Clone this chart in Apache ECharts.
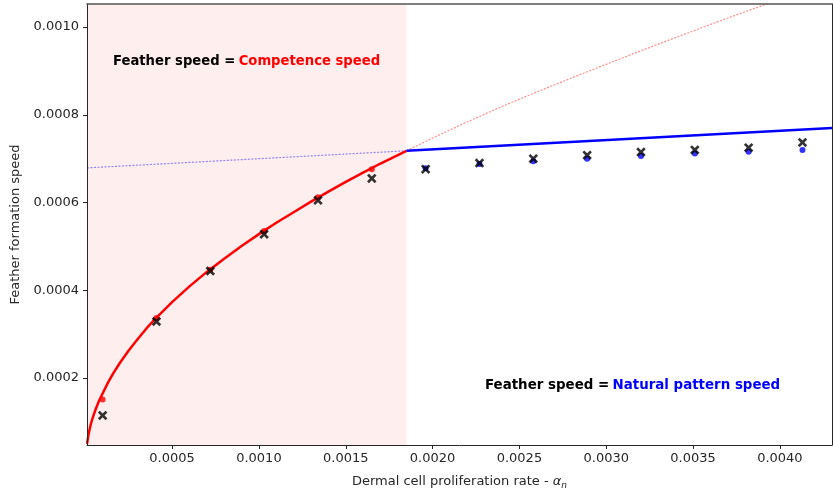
<!DOCTYPE html>
<html>
<head>
<meta charset="utf-8">
<script src="https://cdn.jsdelivr.net/npm/echarts@6/dist/echarts.min.js"></script>
<style>
  html, body { margin: 0; padding: 0; background: #fff; }
  #chart { width: 833px; height: 495px; }
</style>
</head>
<body>
<div id="chart"></div>
<script>
// Axis extents
const xRange = [0.00001, 0.0043];
const yRange = [0.0000475, 0.0010525];
const xTicks = [0.0005, 0.0010, 0.0015, 0.0020, 0.0025, 0.0030, 0.0035, 0.0040];
const yTicks = [0.0002, 0.0004, 0.0006, 0.0008, 0.0010];

// Boundary between the two regimes
const crossoverAlpha = 0.00185;

// Simulated feather speeds (black crosses)
const alphaSamples = [0.0001, 0.00041, 0.00072, 0.00103, 0.00134, 0.00165, 0.00196,
                      0.00227, 0.00258, 0.00289, 0.0032, 0.00351, 0.00382, 0.00413];
const featherSpeed = [0.000115, 0.000329, 0.000444, 0.000528, 0.000605, 0.000655, 0.000676,
                      0.00069, 0.0007, 0.000708, 0.000715, 0.00072, 0.000725, 0.000737];

// Predicted speeds: competence (first six samples) and natural pattern (remaining samples)
const competenceDots = [0.000151, 0.000337, 0.000447, 0.000535, 0.000612, 0.000676];
const patternDots = [0.000678, 0.000688, 0.000694, 0.0007, 0.000706, 0.000712, 0.000716, 0.00072];

// Competence speed curve
const competenceAlpha = [0.00001, 0.00002, 0.00003, 0.00004, 0.00005, 0.00006, 0.00008, 0.0001,
                         0.00013, 0.00016, 0.0002, 0.00025, 0.0003, 0.00035, 0.0004, 0.0005,
                         0.0006, 0.0007, 0.0008, 0.0009, 0.0010, 0.0011, 0.0012, 0.0013,
                         0.0014, 0.0015, 0.0016, 0.0017, 0.00185];
const competenceSpeed = [0.000050, 0.000074, 0.000092, 0.000106, 0.000118, 0.000129, 0.000149, 0.000165,
                         0.000189, 0.00021, 0.000235, 0.000263, 0.000288, 0.000312, 0.000334, 0.000373,
                         0.000409, 0.000442, 0.000472, 0.000501, 0.000528, 0.000554, 0.000578, 0.000602,
                         0.000625, 0.000647, 0.000668, 0.000689, 0.000718];
const competenceExtAlpha = [0.00185, 0.0020, 0.0022, 0.0024, 0.0026, 0.0028, 0.0030,
                            0.0032, 0.0034, 0.0036, 0.0038, 0.0040];
const competenceExtSpeed = [0.000718, 0.000747, 0.000784, 0.000819, 0.000852, 0.000884, 0.000915,
                            0.000946, 0.000976, 0.001006, 0.001035, 0.001063];

// Natural pattern speed line
const patternAlpha = [0.00001, 0.00185, 0.0043];
const patternSpeed = [0.000679, 0.000718, 0.00077];

const pairs = (xs, ys) => xs.map((x, i) => [x, ys[i]]);

const FONT = 'DejaVu Sans';
const tickFmt = v => v.toFixed(4);

const crossPath = 'path://M0,2L2,0L5,3L8,0L10,2L7,5L10,8L8,10L5,7L2,10L0,8L3,5Z';

const baseAxis = {
  type: 'value',
  z: 5,
  axisLine: { show: true, lineStyle: { color: '#262626', width: 1 } },
  splitLine: { show: false }
};

const chart = echarts.init(document.getElementById('chart'), null, { renderer: 'canvas' });
chart.setOption({
  animation: false,
  backgroundColor: '#fff',
  grid: { left: 87, right: 1, top: 4, bottom: 48, containLabel: false },
  xAxis: [
    Object.assign({}, baseAxis, {
      min: xRange[0], max: xRange[1],
      axisTick: { show: true, length: 4, lineStyle: { color: '#262626' }, customValues: xTicks },
      axisLabel: { fontFamily: FONT, fontSize: 13, color: '#262626', margin: 7,
                   customValues: xTicks, formatter: tickFmt },
      name: '{t|Dermal cell proliferation rate - }{a|α}{s|n}',
      nameLocation: 'middle',
      nameGap: 29,
      nameTextStyle: {
        rich: {
          t: { fontFamily: FONT, fontSize: 13, color: '#262626', lineHeight: 16, verticalAlign: 'middle' },
          a: { fontFamily: FONT, fontSize: 13, color: '#262626', fontStyle: 'italic', lineHeight: 16, verticalAlign: 'middle' },
          s: { fontFamily: FONT, fontSize: 9, color: '#262626', fontStyle: 'italic', lineHeight: 16, verticalAlign: 'bottom', padding: [6, 0, 0, 0] }
        }
      }
    }),
    Object.assign({}, baseAxis, {
      position: 'top', min: xRange[0], max: xRange[1],
      axisLine: { show: true, lineStyle: { color: '#555', width: 1.5 } },
      axisTick: { show: false }, axisLabel: { show: false }
    })
  ],
  yAxis: [
    Object.assign({}, baseAxis, {
      min: yRange[0], max: yRange[1],
      axisTick: { show: true, length: 4, lineStyle: { color: '#262626' }, customValues: yTicks },
      axisLabel: { fontFamily: FONT, fontSize: 13, color: '#262626', margin: 8,
                   customValues: yTicks, formatter: tickFmt },
      name: 'Feather formation speed',
      nameLocation: 'middle',
      nameGap: 60,
      nameTextStyle: { fontFamily: FONT, fontSize: 13, color: '#262626' }
    }),
    Object.assign({}, baseAxis, {
      position: 'right', min: yRange[0], max: yRange[1],
      axisTick: { show: false }, axisLabel: { show: false }
    })
  ],
  graphic: [
    {
      type: 'text', left: 113, top: 55, z: 20,
      style: {
        text: '{k|Feather speed =} {r|Competence speed}',
        rich: {
          k: { fontFamily: FONT, fontSize: 13.2, fontWeight: 'bold', fill: '#000' },
          r: { fontFamily: FONT, fontSize: 13.2, fontWeight: 'bold', fill: '#ff0000' }
        }
      }
    },
    {
      type: 'text', left: 485, top: 379, z: 20,
      style: {
        text: '{k|Feather speed =} {b|Natural pattern speed}',
        rich: {
          k: { fontFamily: FONT, fontSize: 13.4, fontWeight: 'bold', fill: '#000' },
          b: { fontFamily: FONT, fontSize: 13.4, fontWeight: 'bold', fill: '#0000ff' }
        }
      }
    }
  ],
  series: [
    {
      // competence regime shading
      type: 'line', data: [], silent: true,
      markArea: {
        silent: true,
        itemStyle: { color: 'rgba(255, 0, 0, 0.065)' },
        data: [[{ xAxis: xRange[0] }, { xAxis: crossoverAlpha }]]
      }
    },
    {
      name: 'Competence (extrapolated)', type: 'line', showSymbol: false, z: 3,
      data: pairs(competenceExtAlpha, competenceExtSpeed),
      lineStyle: { color: 'rgba(255, 0, 0, 0.45)', width: 1.2, type: [2, 1.5] }
    },
    {
      name: 'Pattern (extrapolated)', type: 'line', showSymbol: false, z: 3,
      data: pairs(patternAlpha.slice(0, 2), patternSpeed.slice(0, 2)),
      lineStyle: { color: 'rgba(0, 0, 255, 0.45)', width: 1.2, type: [2, 1.5] }
    },
    {
      name: 'Competence speed', type: 'line', showSymbol: false, z: 4,
      data: pairs(competenceAlpha, competenceSpeed),
      lineStyle: { color: '#ff0000', width: 2.5, join: 'round' }
    },
    {
      name: 'Natural pattern speed', type: 'line', showSymbol: false, z: 4,
      data: pairs(patternAlpha.slice(1), patternSpeed.slice(1)),
      lineStyle: { color: '#0000ff', width: 2.5 }
    },
    {
      name: 'Predicted competence', type: 'scatter', z: 6, symbol: 'circle', symbolSize: 6,
      data: pairs(alphaSamples.slice(0, 6), competenceDots),
      itemStyle: { color: '#ff0000' }
    },
    {
      name: 'Predicted pattern', type: 'scatter', z: 6, symbol: 'circle', symbolSize: 6,
      data: pairs(alphaSamples.slice(6), patternDots),
      itemStyle: { color: '#0000ff' }
    },
    {
      name: 'Simulation', type: 'scatter', z: 7, symbol: crossPath, symbolSize: 9.5,
      data: pairs(alphaSamples, featherSpeed),
      itemStyle: { color: '#000' }
    }
  ]
});
</script>
</body>
</html>
